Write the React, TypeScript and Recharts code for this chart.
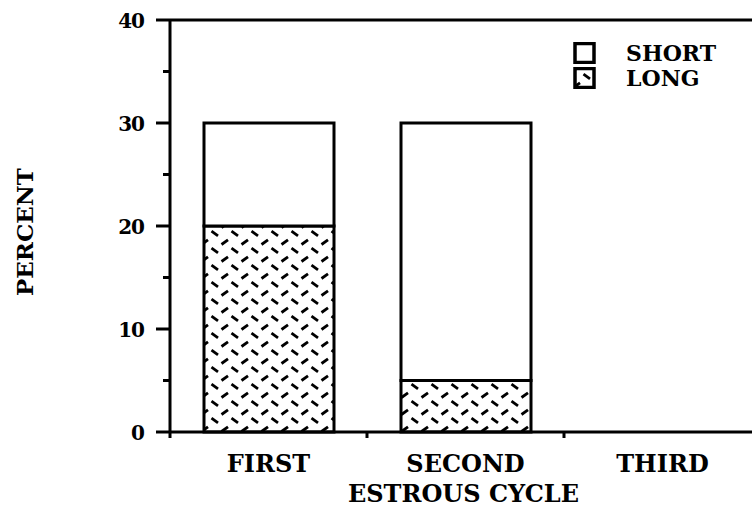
import React from 'react';
import { BarChart, Bar, XAxis, YAxis, ReferenceLine, Legend, Label } from 'recharts';

const categories = ['FIRST', 'SECOND', 'THIRD'];
const longValues = [20, 5, 0];
const shortValues = [10, 25, 0];
const yTicks = [0, 5, 10, 15, 20, 25, 30, 35, 40];
const majorTicks = [0, 10, 20, 30, 40];

const data = categories.map((c, i) => ({ cycle: c, long: longValues[i], short: shortValues[i] }));

const CHART_W = 800;
const CHART_H = 520;
const Y_AXIS_W = 170;
const MARGIN = { top: 20, right: 39, left: 0, bottom: 0 };
const PLOT_W = CHART_W - Y_AXIS_W - MARGIN.left - MARGIN.right;
const HALF_BAND = PLOT_W / categories.length / 2;

const FONT = '"DejaVu Serif", "Liberation Serif", serif';

const YTick = (props: any) => {
  const { x, y, payload } = props;
  const v = payload.value;
  const major = majorTicks.includes(v);
  return (
    <g>
      <line x1={x - (major ? 14 : 7)} x2={x} y1={y} y2={y} stroke="#000" strokeWidth={3} />
      {major && (
        <text x={x - 26} y={y} dy={8} textAnchor="end" fontFamily={FONT} fontWeight="bold" fontSize={20} letterSpacing={-1} fill="#000">
          {v}
        </text>
      )}
    </g>
  );
};

const XTick = (props: any) => {
  const { x, y, payload } = props;
  return (
    <g>
      <line x1={x - HALF_BAND} x2={x - HALF_BAND} y1={y} y2={y + 6} stroke="#000" strokeWidth={3} />
      <text x={x} y={y + 40} textAnchor="middle" fontFamily={FONT} fontWeight="bold" fontSize={24} fill="#000">
        {payload.value}
      </text>
    </g>
  );
};

const HatchLines = () => (
  <>
    <rect width={20} height={17} fill="#fff" />
    <line x1={1.5} y1={6.5} x2={8} y2={1.8} stroke="#000" strokeWidth={2.8} />
    <line x1={11.5} y1={10.2} x2={18} y2={14.8} stroke="#000" strokeWidth={2.8} />
  </>
);

const LegendContent = () => {
  const item = (label: string, fill: string, key: string) => (
    <div key={key} style={{ display: 'flex', alignItems: 'center', height: 25 }}>
      <svg width={24} height={22} style={{ marginRight: 29 }}>
        <rect x={2} y={1.5} width={19} height={19} fill={fill} stroke="#000" strokeWidth={3.5} />
      </svg>
      <span style={{ fontFamily: FONT, fontWeight: 'bold', fontSize: 22, color: '#000' }}>{label}</span>
    </div>
  );
  return (
    <div>
      <svg width={0} height={0} style={{ position: 'absolute' }}>
        <defs>
          <pattern id="hatchLegend" patternUnits="userSpaceOnUse" width={20} height={17} x={-1} y={-3}>
            <HatchLines />
          </pattern>
        </defs>
      </svg>
      {item('SHORT', '#fff', 's')}
      {item('LONG', 'url(#hatchLegend)', 'l')}
    </div>
  );
};

export default function App() {
  return (
    <div style={{ position: 'absolute', left: 0, top: 0, width: 752, height: 520, overflow: 'hidden', background: '#fff' }}>
      <BarChart width={CHART_W} height={CHART_H} data={data} margin={MARGIN} barSize={130}>
        <defs>
          <pattern id="hatch" patternUnits="userSpaceOnUse" width={20} height={17}>
            <HatchLines />
          </pattern>
        </defs>
        <XAxis
          dataKey="cycle"
          height={88}
          axisLine={{ stroke: '#000', strokeWidth: 3 }}
          tickLine={false}
          tickSize={0}
          tickMargin={0}
          tick={<XTick />}
          interval={0}
        >
          <Label
            content={(p: any) => {
              const vb = p.viewBox;
              return (
                <text x={vb.x + vb.width / 2 - 2} y={vb.y + vb.height - 18} textAnchor="middle" fontFamily={FONT} fontWeight="bold" fontSize={24} fill="#000">
                  ESTROUS CYCLE
                </text>
              );
            }}
          />
        </XAxis>
        <YAxis
          type="number"
          domain={[0, 40]}
          ticks={yTicks}
          interval={0}
          width={Y_AXIS_W}
          axisLine={{ stroke: '#000', strokeWidth: 3 }}
          tickLine={false}
          tickSize={0}
          tickMargin={0}
          tick={<YTick />}
        >
          <Label
            content={(p: any) => {
              const vb = p.viewBox;
              const cx = vb.x + 24;
              const cy = vb.y + vb.height / 2 + 6;
              return (
                <text x={cx} y={cy} transform={`rotate(-90 ${cx} ${cy})`} textAnchor="middle" dominantBaseline="central" fontFamily={FONT} fontWeight="bold" fontSize={23} fill="#000">
                  PERCENT
                </text>
              );
            }}
          />
        </YAxis>
        <ReferenceLine y={40} stroke="#000" strokeWidth={3} />
        <Legend
          layout="vertical"
          align="center"
          verticalAlign="middle"
          content={<LegendContent />}
          wrapperStyle={{ position: 'absolute', left: 573, top: 40, width: 200 }}
        />
        <Bar dataKey="long" name="LONG" stackId="a" fill="url(#hatch)" stroke="#000" strokeWidth={3} isAnimationActive={false} />
        <Bar dataKey="short" name="SHORT" stackId="a" fill="#fff" stroke="#000" strokeWidth={3} isAnimationActive={false} />
      </BarChart>
    </div>
  );
}
